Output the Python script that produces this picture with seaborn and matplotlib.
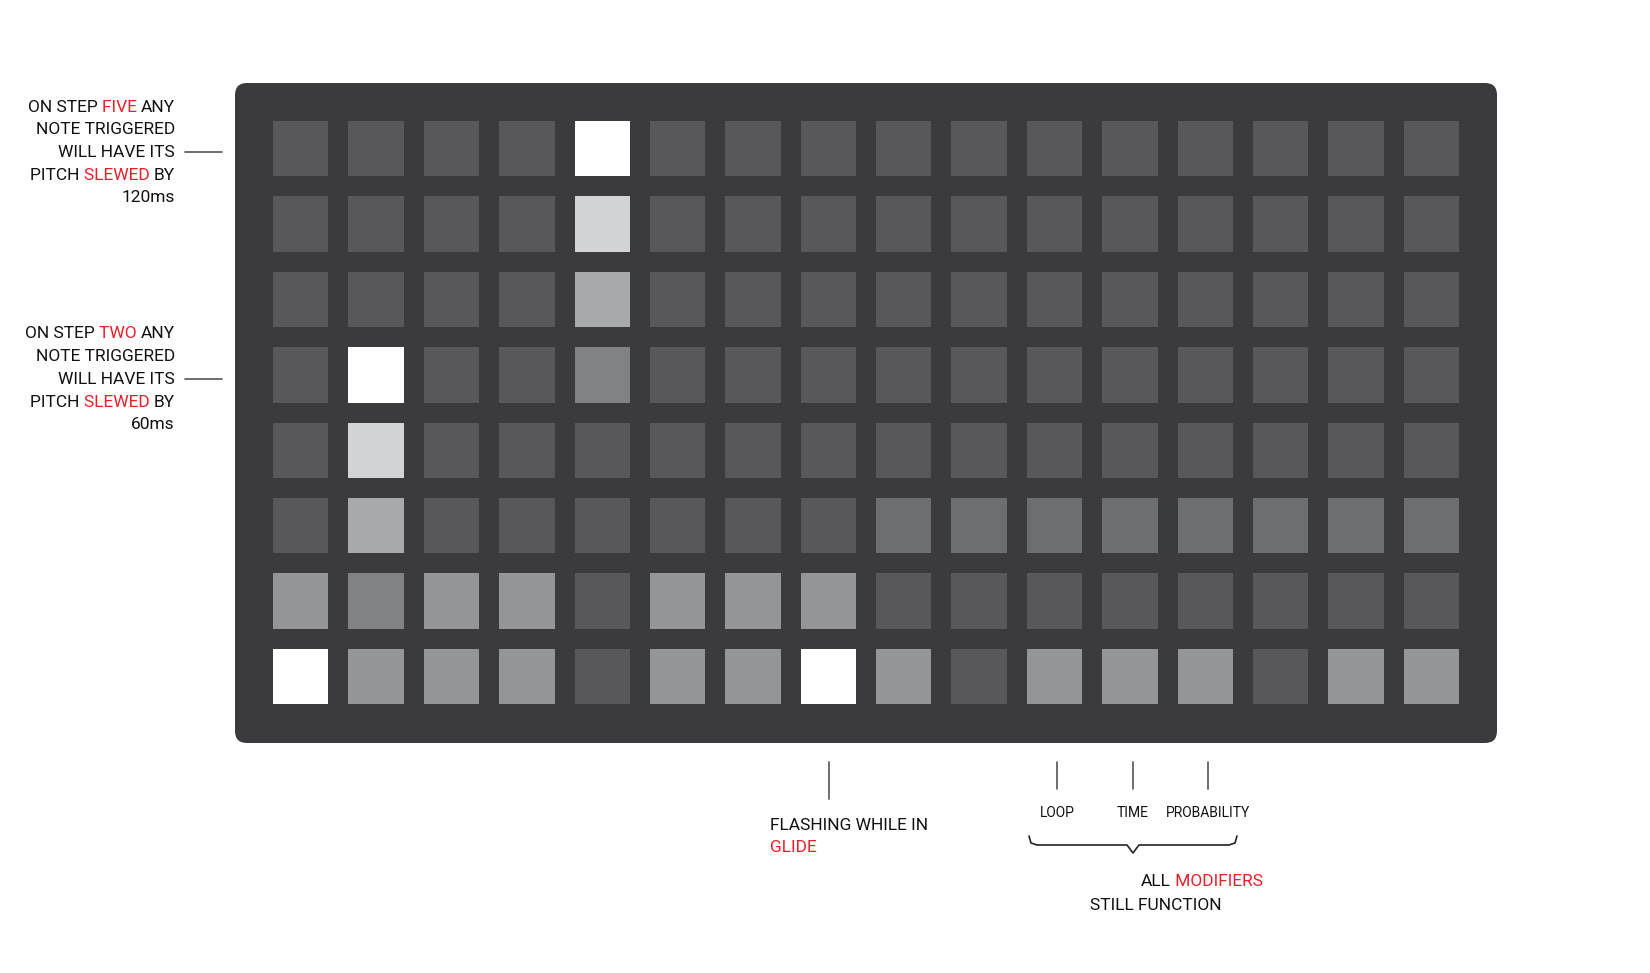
import numpy as np
import seaborn as sns
import matplotlib.pyplot as plt
from matplotlib.colors import ListedColormap
from matplotlib.patches import FancyBboxPatch

sns.set_theme(style="white")
plt.rcParams['font.family'] = ['Roboto', 'DejaVu Sans']

# brightness level per pad (8 rows x 16 steps)
levels = [
    [0, 0, 0, 0, 6, 0, 0, 0, 0, 0, 0, 0, 0, 0, 0, 0],
    [0, 0, 0, 0, 5, 0, 0, 0, 0, 0, 0, 0, 0, 0, 0, 0],
    [0, 0, 0, 0, 3, 0, 0, 0, 0, 0, 0, 0, 0, 0, 0, 0],
    [0, 6, 0, 0, 4, 0, 0, 0, 0, 0, 0, 0, 0, 0, 0, 0],
    [0, 5, 0, 0, 0, 0, 0, 0, 0, 0, 0, 0, 0, 0, 0, 0],
    [0, 3, 0, 0, 0, 0, 0, 0, 1, 1, 1, 1, 1, 1, 1, 1],
    [2, 4, 2, 2, 0, 2, 2, 2, 0, 0, 0, 0, 0, 0, 0, 0],
    [6, 2, 2, 2, 0, 2, 2, 6, 2, 0, 2, 2, 2, 0, 2, 2],
]
level_colors = ["#58585a", "#6d6e71", "#939598", "#a7a9ac", "#808285", "#d1d3d4", "#ffffff"]
board_color = "#3b3b3d"
red = "#e8202a"

fig = plt.figure(figsize=(16.5, 9.73), dpi=100)
ax = fig.add_axes([0, 0, 1, 1])
ax.set_xlim(0, 1650)
ax.set_ylim(973, 0)
ax.axis("off")

ax.add_patch(FancyBboxPatch((235, 83), 1262, 660, boxstyle="round,pad=0,rounding_size=12",
                            fc=board_color, ec="none"))

W, H = 1650, 973
x0, x1, y0, y1 = 263, 1469, 111, 714
hax = fig.add_axes([x0 / W, 1 - y1 / H, (x1 - x0) / W, (y1 - y0) / H])
sns.heatmap(np.array(levels), ax=hax, cmap=ListedColormap(level_colors), vmin=-0.5, vmax=6.5,
            cbar=False, linewidths=13.3, linecolor=board_color, xticklabels=False, yticklabels=False)
hax.axis("off")


def colored_line(x, y, parts, ha="right", size=12.5):
    # parts: list of (text, color); placed left-to-right, anchored by ha
    if ha == "right":
        t = ax.text(x, y, parts[-1][0], color=parts[-1][1], ha="right", va="center", fontsize=size)
        for txt, c in reversed(parts[:-1]):
            t = ax.annotate(txt + " ", xy=(0, 0.5), xycoords=t, ha="right", va="center",
                            color=c, fontsize=size)
    else:
        t = ax.text(x, y, parts[0][0], color=parts[0][1], ha=ha, va="center", fontsize=size)
        for txt, c in parts[1:]:
            t = ax.annotate(" " + txt, xy=(1, 0.5), xycoords=t, ha="left", va="center",
                            color=c, fontsize=size)


k = "#111111"
blocks = [
    (107, [[("ON STEP", k), ("FIVE", red), ("ANY", k)], [("NOTE TRIGGERED", k)],
           [("WILL HAVE ITS", k)], [("PITCH", k), ("SLEWED", red), ("BY", k)], [("120ms", k)]]),
    (334, [[("ON STEP", k), ("TWO", red), ("ANY", k)], [("NOTE TRIGGERED", k)],
           [("WILL HAVE ITS", k)], [("PITCH", k), ("SLEWED", red), ("BY", k)], [("60ms", k)]]),
]
for ytop, lines in blocks:
    for i, parts in enumerate(lines):
        colored_line(175, ytop + i * 22.7, parts)
    ax.plot([185, 222], [ytop + 2 * 22.7] * 2, color="#555555", lw=1.2)

# glide annotation
ax.plot([829, 829], [762, 799], color="#555555", lw=1.2)
ax.text(770, 825, "FLASHING WHILE IN", ha="left", va="center", fontsize=12.5, color=k)
ax.text(770, 847, "GLIDE", ha="left", va="center", fontsize=12.5, color=red)

# modifiers
for xm, lab in zip([1057, 1133, 1208], ["LOOP", "TIME", "PROBABILITY"]):
    ax.plot([xm, xm], [762, 789], color="#555555", lw=1.2)
    ax.text(xm, 813, lab, ha="center", va="center", fontsize=10, color=k)
bx0, bx1, bm = 1029, 1237, 1133
ax.plot([bx0, bx0 + 2, bx0 + 8, bm - 6, bm, bm + 6, bx1 - 8, bx1 - 2, bx1],
        [836, 843, 845, 845, 853, 845, 845, 843, 836], color="#222222", lw=1.2)
colored_line(1156, 881, [("ALL", k), ("MODIFIERS", red)], ha="center")
ax.text(1156, 905, "STILL FUNCTION", ha="center", va="center", fontsize=12.5, color=k)

fig.savefig("out.png", dpi=100)
